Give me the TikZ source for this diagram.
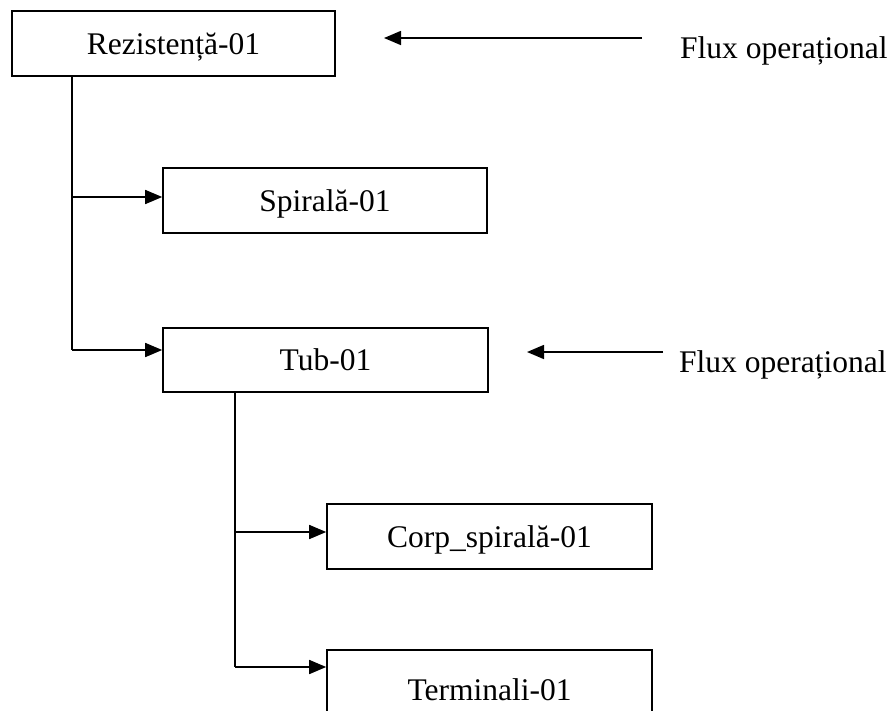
\documentclass[tikz,border=0pt]{standalone}
\usepackage{fontspec}
\setmainfont{Liberation Serif}
\usetikzlibrary{arrows.meta}
\begin{document}
\begin{tikzpicture}[x=1pt,y=-1pt,
  box/.style={draw, line width=1.6pt, rectangle, inner sep=0pt,
    text height=21pt, text depth=0pt, font=\fontsize{31.5}{36}\selectfont},
  conn/.style={line width=1.6pt},
  arr/.style={line width=1.6pt, -{Triangle[length=17pt,width=14pt]}},
  lbl/.style={font=\fontsize{31.5}{36}\selectfont, inner sep=0pt, anchor=base west}]
\useasboundingbox (0,0) rectangle (894,710);
\node[box, minimum width=323pt, minimum height=65pt] (rez) at (173.5,43.5) {Rezistență-01};
\node[box, minimum width=324pt, minimum height=65pt] (spir) at (325,200.5) {Spirală-01};
\node[box, minimum width=325pt, minimum height=64pt] (tub) at (325.5,360) {Tub-01};
\node[box, minimum width=325pt, minimum height=65pt] (corp) at (489.5,536.5) {Corp\_spirală-01};
\node[box, minimum width=325pt, minimum height=80pt] (term) at (489.5,690) {Terminali-01};
\coordinate (b1) at (72,197);
\coordinate (b2) at (72,350);
\draw[conn] (rez.south -| b1) -- (b2);
\draw[arr] (b1) -- (b1 -| spir.west);
\draw[arr] (b2) -- (b2 -| tub.west);
\coordinate (c1) at (235,532);
\coordinate (c2) at (235,667);
\draw[conn] (tub.south -| c1) -- (c2);
\draw[arr] (c1) -- (c1 -| corp.west);
\draw[arr] (c2) -- (c2 -| term.west);
\node[lbl] (f1) at (680,58) {Flux operațional};
\coordinate (f1s) at (642,38);
\coordinate (f1e) at (384,38);
\draw[arr] (f1s) -- (f1e);
\node[lbl] (f2) at (679,372) {Flux operațional};
\coordinate (f2s) at (663,352);
\coordinate (f2e) at (527,352);
\draw[arr] (f2s) -- (f2e);
\end{tikzpicture}
\end{document}
